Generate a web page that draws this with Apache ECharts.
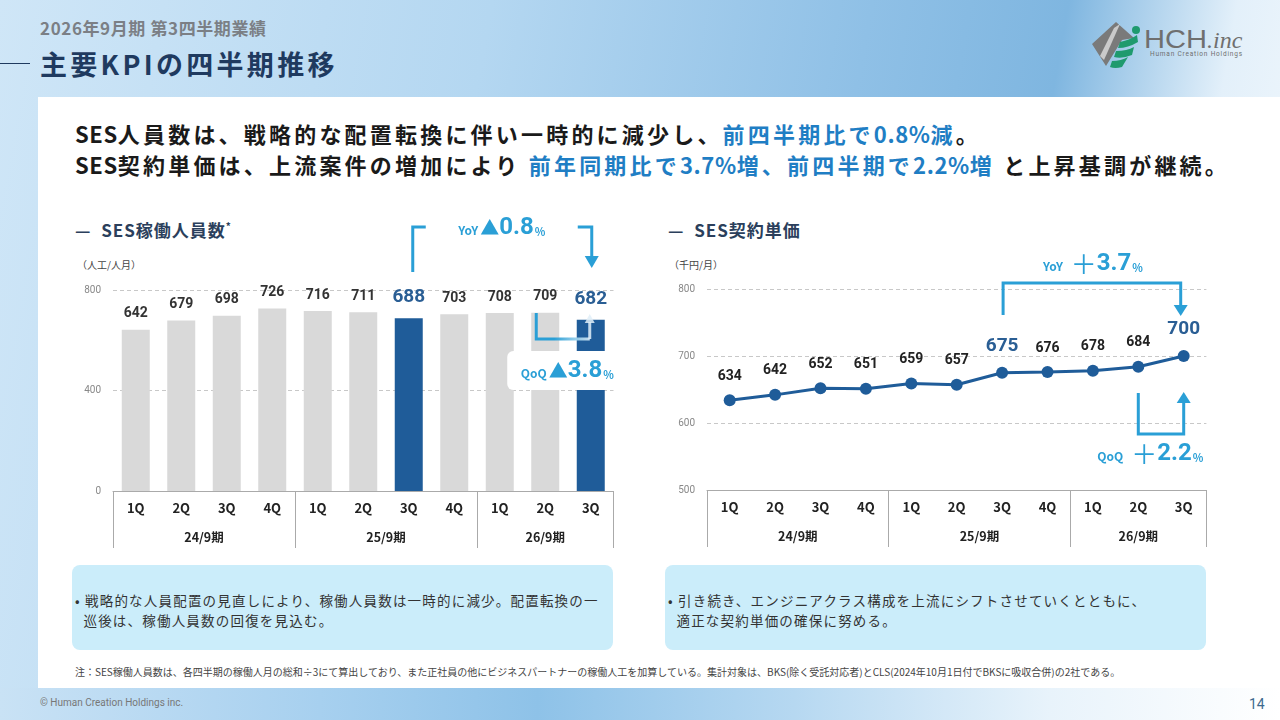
<!DOCTYPE html>
<html>
  <head>
    <meta charset="utf-8" />
    <title>主要KPIの四半期推移</title>
    <style>
      html, body { margin: 0; padding: 0; }
      body { width: 1280px; height: 720px; overflow: hidden; font-family: "Noto Sans CJK JP", "Noto Sans", sans-serif; }
      #stage { position: relative; width: 1280px; height: 720px; overflow: hidden;
        background: linear-gradient(100deg, #cfe6f7 0%, #b4d7f1 35%, #8fc0e6 62%, #7fb6e0 76%, #e3f0fa 88%, #f6fafd 100%); }
      .abs { position: absolute; white-space: nowrap; }
      #panel { left: 38px; top: 97px; width: 1242px; height: 591px; background: #fff; }
      #footband { left: 0; top: 688px; width: 1280px; height: 32px;
        background: linear-gradient(90deg, #c9e2f5 0%, #a7d0ef 25%, #8ec2e8 42%, #b6d8f1 62%, #e8f3fb 82%, #ffffff 100%); }
      #sub { left: 40px; top: 15px; font-size: 17px; font-weight: 700; color: #7b7f85; letter-spacing: 0.6px; }
      #titleline { left: 0; top: 63px; width: 30px; height: 1px; background: #1f3a5f; }
      #title { left: 40px; top: 44px; font-size: 27px; font-weight: 700; color: #1f3a5f; letter-spacing: 3.3px; }
      .head { left: 75px; font-size: 22px; font-weight: 700; color: #1a1a1a; letter-spacing: 3.2px; }
      .head .n { letter-spacing: 0.6px; }
      .hl { color: #1f7ec4; }
      .sec { top: 217px; font-size: 17px; font-weight: 700; color: #2b3f5c; letter-spacing: 1px; }
      .sec sup { font-size: 10px; }
      .unit { top: 257px; font-size: 10px; color: #444; }
      .box { top: 565px; width: 541px; height: 85px; background: #cbedfa; border-radius: 8px; }
      .box p { margin: 0; position: absolute; left: 3px; top: 25px; font-size: 13.5px; line-height: 20px; color: #333; letter-spacing: 1.2px; white-space: nowrap; }
      #note { left: 75px; top: 664px; font-size: 10px; color: #444; }
      #copy { left: 40px; top: 697px; font-size: 10px; color: #777; font-family: Roboto, sans-serif; }
      #page { left: 1249px; top: 696px; font-size: 14px; color: #3d6a8e; font-family: Roboto, sans-serif; }
      #chart { left: 0; top: 0; width: 1280px; height: 720px; }
    </style>
  </head>
  <body>
    <div id="stage">
      <div id="panel" class="abs"></div>
      <div id="footband" class="abs"></div>

      <div id="sub" class="abs">2026年9月期 第3四半期業績</div>
      <div id="titleline" class="abs"></div>
      <div id="title" class="abs">主要KPIの四半期推移</div>

      <!-- logo -->
      <svg class="abs" style="left:1090px;top:16px" width="170" height="56" viewBox="0 0 170 56">
        <polygon points="2,28 26,6 44,22 32,24 16,50" fill="#7a7a7a" />
        <polygon points="24,12 30,8 14,44 10,40" fill="#ffffff" opacity="0.6" />
        <circle cx="46" cy="14" r="4" fill="#1f9a6e" />
        <path d="M30,26 Q40,24 47,19 L48,26 Q38,32 28,32 Z" fill="#1f9a6e" />
        <path d="M26,35 Q37,35 44,31 L42,39 Q32,43 24,41 Z" fill="#1f9a6e" />
        <path d="M22,45 Q31,45 38,41 L32,51 Q25,53 20,51 Z" fill="#1f9a6e" />
        <text x="54" y="32" font-family="Liberation Sans, Arial, sans-serif" font-size="26" textLength="63" lengthAdjust="spacingAndGlyphs" fill="#6f6f6f">HCH</text>
        <text x="117" y="32" font-family="Liberation Serif, serif" font-style="italic" font-size="24" fill="#6f6f6f">.inc</text>
        <text x="60" y="40" font-family="Roboto, sans-serif" font-size="6.5" textLength="92" fill="#6f6f6f">Human Creation Holdings</text>
      </svg>

      <div class="abs head" style="top:117px"><span class="n">SES</span>人員数は、戦略的な配置転換に伴い一時的に減少し、<span class="hl">前四半期比で<span class="n">0.8%</span>減</span>。</div>
      <div class="abs head" style="top:148px"><span class="n">SES</span>契約単価は、上流案件の増加により <span class="hl">前年同期比で<span class="n">3.7%</span>増、前四半期で<span class="n">2.2%</span>増</span>&nbsp;と上昇基調が継続。</div>

      <div class="abs sec" style="left:75px">—&nbsp; SES稼働人員数<sup>*</sup></div>
      <div class="abs sec" style="left:668px">—&nbsp; SES契約単価</div>
      <div class="abs unit" style="left:77px">（人工/人月）</div>
      <div class="abs unit" style="left:669px">（千円/月）</div>

      <div class="abs box" style="left:72px"><p>• 戦略的な人員配置の見直しにより、稼働人員数は一時的に減少。配置転換の一<br />&nbsp;&nbsp;巡後は、稼働人員数の回復を見込む。</p></div>
      <div class="abs box" style="left:665px"><p>• 引き続き、エンジニアクラス構成を上流にシフトさせていくとともに、<br />&nbsp;&nbsp;適正な契約単価の確保に努める。</p></div>

      <div id="note" class="abs">注：SES稼働人員数は、各四半期の稼働人月の総和÷3にて算出しており、また正社員の他にビジネスパートナーの稼働人工を加算している。集計対象は、BKS(除く受託対応者)とCLS(2024年10月1日付でBKSに吸収合併)の2社である。</div>
      <div id="copy" class="abs">© Human Creation Holdings inc.</div>
      <div id="page" class="abs">14</div>

      <div id="chart" class="abs"></div>
    </div>

    <script src="https://cdn.jsdelivr.net/npm/echarts@6/dist/echarts.min.js"></script>
    <script>
      // data
      const quarters = ['1Q', '2Q', '3Q', '4Q', '1Q', '2Q', '3Q', '4Q', '1Q', '2Q', '3Q'];
      const fiscalYears = ['24/9期', '25/9期', '26/9期'];
      const quartersPerYear = [4, 4, 3];
      const headcount = [642, 679, 698, 726, 716, 711, 688, 703, 708, 709, 682];
      const unitPrice = [634, 642, 652, 651, 659, 657, 675, 676, 678, 684, 700];
      const highlightIdx = [6, 10];
      const headcountTicks = { min: 0, max: 800, interval: 400 };
      const priceTicks = { min: 500, max: 800, interval: 100 };

      const DARK = '#1f5c99';
      const ACCENT = '#2a9fd6';
      const FONT = '"Noto Sans CJK JP", sans-serif';

      // year row boundaries / centres in category units
      const yearBounds = [0];
      quartersPerYear.forEach((n) => yearBounds.push(yearBounds[yearBounds.length - 1] + n));
      const yearCenters = fiscalYears.map((_, i) => (yearBounds[i] + yearBounds[i + 1]) / 2);

      function quarterAxis(gridIndex) {
        return {
          type: 'category',
          gridIndex: gridIndex,
          data: quarters,
          axisLine: { lineStyle: { color: '#aaaaaa', width: 1 } },
          axisTick: { show: false },
          axisLabel: { color: '#222', fontSize: 13, fontWeight: 'bold', fontFamily: FONT, margin: 11 },
        };
      }

      function yearAxis(gridIndex) {
        return {
          type: 'value',
          gridIndex: gridIndex,
          position: 'bottom',
          min: 0,
          max: quarters.length,
          axisLine: { show: false },
          splitLine: { show: false },
          axisTick: {
            show: true,
            customValues: yearBounds,
            length: 57,
            lineStyle: { color: '#aaaaaa', width: 1 },
          },
          axisLabel: {
            customValues: yearCenters,
            margin: 40,
            color: '#222',
            fontSize: 12.5,
            fontWeight: 'bold',
            fontFamily: FONT,
            formatter: (v) => fiscalYears[yearCenters.indexOf(v)] || '',
          },
        };
      }

      function valueAxis(gridIndex, t) {
        return {
          type: 'value',
          gridIndex: gridIndex,
          min: t.min,
          max: t.max,
          interval: t.interval,
          axisLine: { show: false },
          axisTick: { show: false },
          axisLabel: { color: '#888', fontSize: 10, margin: 12, fontFamily: 'Roboto, sans-serif' },
          splitLine: { lineStyle: { color: '#c8c8c8', type: [4, 3] } },
        };
      }

      const barData = headcount.map((v, i) => {
        const hi = highlightIdx.includes(i);
        return {
          value: v,
          itemStyle: { color: hi ? DARK : '#d9d9d9' },
          label: hi
            ? { color: '#2a5e94', fontSize: 19, distance: 11 }
            : { color: '#333', fontSize: 14, distance: 9 },
        };
      });

      const lineData = unitPrice.map((v, i) => {
        const hi = highlightIdx.includes(i);
        return {
          value: v,
          label: hi ? { color: '#2a5e94', fontSize: 19 } : { color: '#222', fontSize: 14 },
        };
      });

      const chart = echarts.init(document.getElementById('chart'), null, { width: 1280, height: 720 });

      chart.setOption({
        animation: false,
        textStyle: { fontFamily: FONT },
        grid: [
          { left: 113, top: 290, width: 500.5, height: 201 },
          { left: 707, top: 289, width: 499.4, height: 201 },
        ],
        xAxis: [quarterAxis(0), yearAxis(0), quarterAxis(1), yearAxis(1)],
        yAxis: [valueAxis(0, headcountTicks), valueAxis(1, priceTicks)],
        series: [
          {
            name: 'SES稼働人員数',
            type: 'bar',
            xAxisIndex: 0,
            yAxisIndex: 0,
            barWidth: 28,
            data: barData,
            label: { show: true, position: 'top', fontWeight: 'bold', fontFamily: 'Roboto, sans-serif' },
            z: 2,
          },
          {
            name: 'SES契約単価',
            type: 'line',
            xAxisIndex: 2,
            yAxisIndex: 1,
            data: lineData,
            symbol: 'circle',
            symbolSize: 12,
            lineStyle: { color: DARK, width: 3 },
            itemStyle: { color: DARK },
            label: { show: true, position: 'top', distance: 11, fontWeight: 'bold', fontFamily: 'Roboto, sans-serif' },
            z: 3,
          },
        ],
      });

      // annotation brackets placed from the axes
      function px(xi, yi, i, v) {
        return chart.convertToPixel({ xAxisIndex: xi, yAxisIndex: yi }, [i, v]);
      }
      const lx6 = px(0, 0, 6, 0)[0];
      const lx9 = px(0, 0, 9, 0)[0];
      const lx10 = px(0, 0, 10, 0)[0];
      const rx6 = px(2, 1, 6, 600)[0];
      const rx9 = px(2, 1, 9, 600)[0];
      const rx10 = px(2, 1, 10, 600)[0];

      const richPct = {
        a: { fontSize: 12, fontWeight: 'bold', fill: ACCENT, fontFamily: FONT, padding: [5, 2, 0, 0] },
        p: { fontSize: 26, fontWeight: 'normal', fill: ACCENT, fontFamily: FONT },
        b: { fontSize: 24, fontWeight: 'bold', fill: ACCENT, fontFamily: 'Roboto, sans-serif' },
        t: { fontSize: 19, fontWeight: 'bold', fill: ACCENT, fontFamily: FONT },
        c: { fontSize: 11, fontWeight: 'bold', fill: ACCENT, fontFamily: FONT, padding: [7, 0, 0, 1] },
      };
      function label(x, y, txt) {
        return {
          type: 'text',
          z: 120,
          style: { x: x, y: y, text: txt, rich: richPct, fill: ACCENT, align: 'center', verticalAlign: 'middle' },
        };
      }
      function line(points, stroke) {
        return {
          type: 'polyline',
          z: 110,
          shape: { points: points },
          style: { stroke: stroke || ACCENT, lineWidth: 3, fill: null },
        };
      }
      function arrow(points, fill) {
        return { type: 'polygon', z: 110, shape: { points: points }, style: { fill: fill || ACCENT } };
      }

      const fade = new echarts.graphic.LinearGradient(0, 0, 1, 0, [
        { offset: 0, color: ACCENT },
        { offset: 0.35, color: ACCENT },
        { offset: 1, color: 'rgba(225,238,248,0.9)' },
      ]);

      chart.setOption({
        graphic: [
          // left YoY
          line([[lx6 + 4, 272], [lx6 + 4, 227], [lx6 + 17, 227]]),
          line([[lx10 - 13, 227], [lx10 + 1, 227], [lx10 + 1, 258]]),
          arrow([[lx10 - 6, 256], [lx10 + 8, 256], [lx10 + 1, 268]]),
          label((lx6 + lx10) / 2 + 2, 228, '{a|YoY}{t|▲}{b|0.8}{c|%}'),
          // left QoQ
          line([[lx9 - 9, 313], [lx9 - 9, 339], [lx10 - 1, 339]], fade),
          line([[lx10 - 1, 339], [lx10 - 1, 322]], 'rgba(225,238,248,0.85)'),
          arrow([[lx10 - 6, 323], [lx10 + 4, 323], [lx10 - 1, 314]], 'rgba(225,238,248,0.85)'),
          { type: 'rect', z: 105, shape: { x: lx9 - 38, y: 351, width: 120, height: 39, r: 6 }, style: { fill: '#ffffff' } },
          label(lx9 + 22, 371, '{a|QoQ}{t|▲}{b|3.8}{c|%}'),
          // right YoY
          line([[rx6 + 1, 315], [rx6 + 1, 283], [rx10 - 3, 283], [rx10 - 3, 306]]),
          arrow([[rx10 - 10, 305], [rx10 + 4, 305], [rx10 - 3, 316]]),
          label((rx6 + rx10) / 2, 264, '{a|YoY}{p| ＋}{b|3.7}{c|%}'),
          // right QoQ
          line([[rx9, 393], [rx9, 434], [rx10, 434], [rx10, 402]]),
          arrow([[rx10 - 7, 403], [rx10 + 7, 403], [rx10, 392]]),
          label(rx9 + 12, 454, '{a|QoQ}{p| ＋}{b|2.2}{c|%}'),
        ],
      });
    </script>
  </body>
</html>
